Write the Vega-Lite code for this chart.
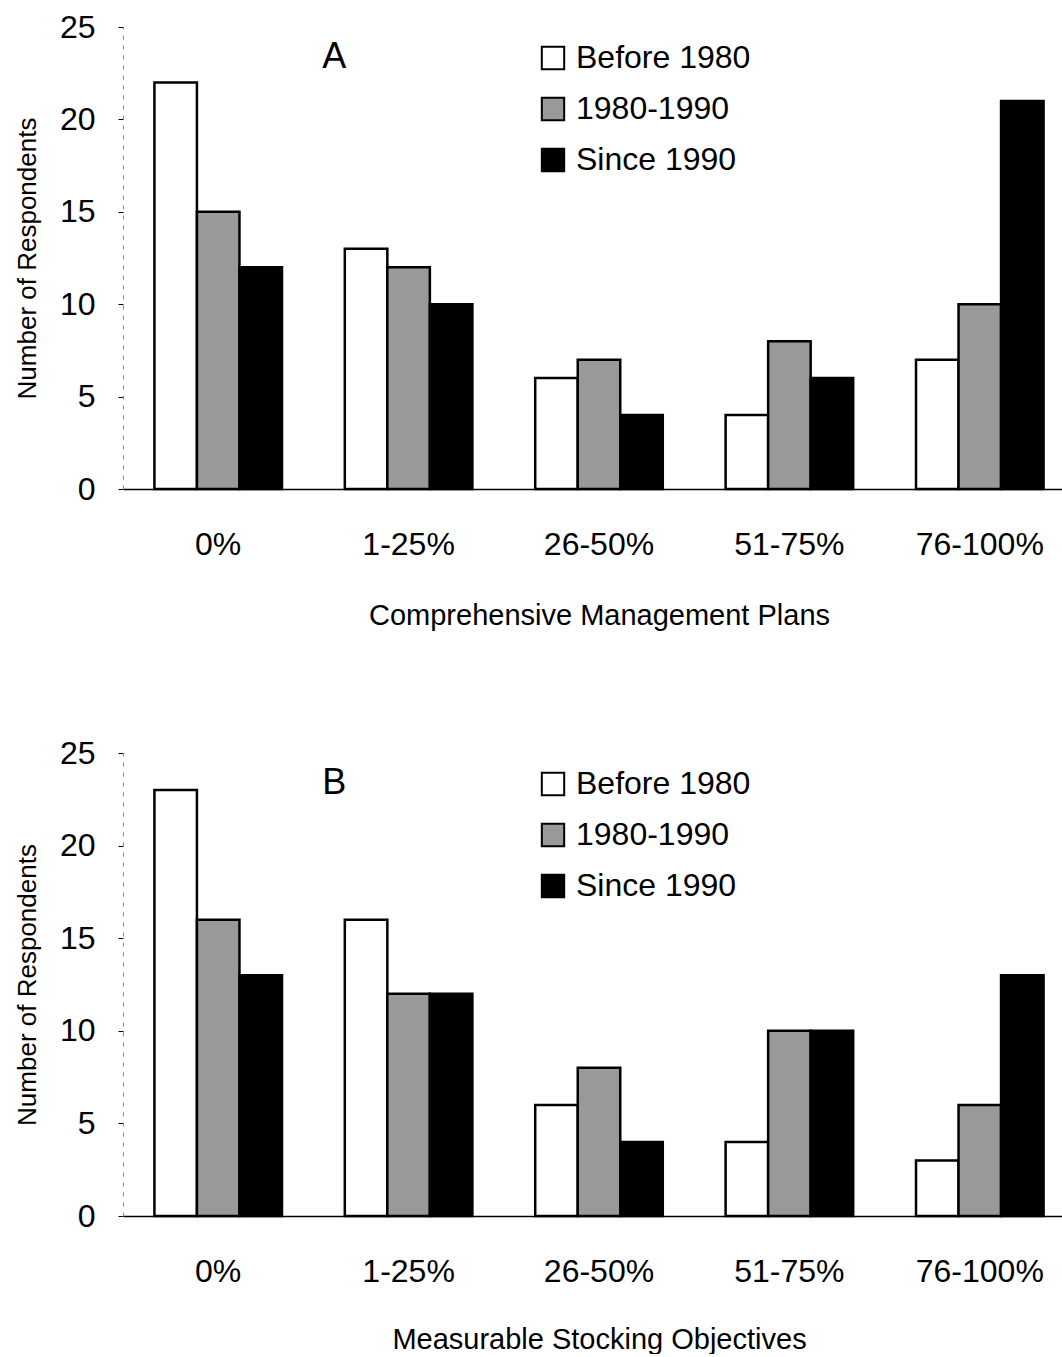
{
  "$schema": "https://vega.github.io/schema/vega-lite/v6.json",
  "padding": {"left": 14, "top": 11, "right": 0, "bottom": 0},
  "config": {
    "font": "Liberation Sans",
    "view": {"stroke": null},
    "axis": {"grid": false}
  },
  "data": {
    "values": [
      {"panel": "A", "range": "0%", "period": "Before 1980", "count": 22},
      {"panel": "A", "range": "0%", "period": "1980-1990", "count": 15},
      {"panel": "A", "range": "0%", "period": "Since 1990", "count": 12},
      {"panel": "A", "range": "1-25%", "period": "Before 1980", "count": 13},
      {"panel": "A", "range": "1-25%", "period": "1980-1990", "count": 12},
      {"panel": "A", "range": "1-25%", "period": "Since 1990", "count": 10},
      {"panel": "A", "range": "26-50%", "period": "Before 1980", "count": 6},
      {"panel": "A", "range": "26-50%", "period": "1980-1990", "count": 7},
      {"panel": "A", "range": "26-50%", "period": "Since 1990", "count": 4},
      {"panel": "A", "range": "51-75%", "period": "Before 1980", "count": 4},
      {"panel": "A", "range": "51-75%", "period": "1980-1990", "count": 8},
      {"panel": "A", "range": "51-75%", "period": "Since 1990", "count": 6},
      {"panel": "A", "range": "76-100%", "period": "Before 1980", "count": 7},
      {"panel": "A", "range": "76-100%", "period": "1980-1990", "count": 10},
      {"panel": "A", "range": "76-100%", "period": "Since 1990", "count": 21},
      {"panel": "B", "range": "0%", "period": "Before 1980", "count": 23},
      {"panel": "B", "range": "0%", "period": "1980-1990", "count": 16},
      {"panel": "B", "range": "0%", "period": "Since 1990", "count": 13},
      {"panel": "B", "range": "1-25%", "period": "Before 1980", "count": 16},
      {"panel": "B", "range": "1-25%", "period": "1980-1990", "count": 12},
      {"panel": "B", "range": "1-25%", "period": "Since 1990", "count": 12},
      {"panel": "B", "range": "26-50%", "period": "Before 1980", "count": 6},
      {"panel": "B", "range": "26-50%", "period": "1980-1990", "count": 8},
      {"panel": "B", "range": "26-50%", "period": "Since 1990", "count": 4},
      {"panel": "B", "range": "51-75%", "period": "Before 1980", "count": 4},
      {"panel": "B", "range": "51-75%", "period": "1980-1990", "count": 10},
      {"panel": "B", "range": "51-75%", "period": "Since 1990", "count": 10},
      {"panel": "B", "range": "76-100%", "period": "Before 1980", "count": 3},
      {"panel": "B", "range": "76-100%", "period": "1980-1990", "count": 6},
      {"panel": "B", "range": "76-100%", "period": "Since 1990", "count": 13}
    ]
  },
  "resolve": {"scale": {"color": "independent"}, "legend": {"color": "independent"}},
  "spacing": 107,
  "vconcat": [
    {
      "width": 952,
      "height": 462,
      "layer": [
        {
          "transform": [{"filter": "datum.panel === 'A'"}],
          "mark": {"type": "bar", "stroke": "black", "strokeWidth": 2.5},
          "encoding": {
            "x": {
              "field": "range", "type": "nominal",
              "sort": ["0%", "1-25%", "26-50%", "51-75%", "76-100%"],
              "scale": {"paddingInner": 0.33, "paddingOuter": 0.165},
              "axis": {
                "title": "Comprehensive Management Plans", "titleFontSize": 29, "titleFontWeight": "normal",
                "titlePadding": 41, "labelFontSize": 32, "labelPadding": 40, "labelAngle": 0,
                "ticks": false, "domainColor": "black", "domainWidth": 1.5
              }
            },
            "xOffset": {"field": "period", "type": "nominal", "sort": ["Before 1980", "1980-1990", "Since 1990"], "scale": {"paddingInner": 0, "paddingOuter": 0}},
            "y": {
              "field": "count", "type": "quantitative",
              "scale": {"domain": [0, 25], "nice": false},
              "axis": {
                "title": "Number of Respondents", "titleFontSize": 26, "titleFontWeight": "normal",
                "titlePadding": 19, "values": [0, 5, 10, 15, 20, 25], "labelFontSize": 32,
                "labelPadding": 23, "tickSize": 5, "tickColor": "black",
                "domainColor": "#888888", "domainDash": [4, 6], "domainWidth": 1
              }
            },
            "color": {
              "field": "period", "type": "nominal",
              "sort": ["Before 1980", "1980-1990", "Since 1990"],
              "scale": {"domain": ["Before 1980", "1980-1990", "Since 1990"], "range": ["#ffffff", "#999999", "#000000"]},
              "legend": {
                "title": null, "orient": "none", "legendX": 414, "legendY": 15,
                "labelFontSize": 32, "labelLimit": 400, "symbolType": "square", "symbolSize": 500,
                "symbolStrokeColor": "black", "symbolStrokeWidth": 2, "rowPadding": 19, "labelOffset": 7,
                "symbolOpacity": 1
              }
            }
          }
        },
        {
          "data": {"values": [{"label": "A", "range": "0%", "count": 23.4}]},
          "mark": {"type": "text", "fontSize": 36, "dx": 116, "align": "center", "baseline": "middle"},
          "encoding": {
            "x": {"field": "range", "type": "nominal", "bandPosition": 0.5},
            "y": {"field": "count", "type": "quantitative"},
            "text": {"field": "label"}
          }
        }
      ]
    },
    {
      "width": 952,
      "height": 463,
      "layer": [
        {
          "transform": [{"filter": "datum.panel === 'B'"}],
          "mark": {"type": "bar", "stroke": "black", "strokeWidth": 2.5},
          "encoding": {
            "x": {
              "field": "range", "type": "nominal",
              "sort": ["0%", "1-25%", "26-50%", "51-75%", "76-100%"],
              "scale": {"paddingInner": 0.33, "paddingOuter": 0.165},
              "axis": {
                "title": "Measurable Stocking Objectives", "titleFontSize": 29, "titleFontWeight": "normal",
                "titlePadding": 38, "labelFontSize": 32, "labelPadding": 40, "labelAngle": 0,
                "ticks": false, "domainColor": "black", "domainWidth": 1.5
              }
            },
            "xOffset": {"field": "period", "type": "nominal", "sort": ["Before 1980", "1980-1990", "Since 1990"], "scale": {"paddingInner": 0, "paddingOuter": 0}},
            "y": {
              "field": "count", "type": "quantitative",
              "scale": {"domain": [0, 25], "nice": false},
              "axis": {
                "title": "Number of Respondents", "titleFontSize": 26, "titleFontWeight": "normal",
                "titlePadding": 19, "values": [0, 5, 10, 15, 20, 25], "labelFontSize": 32,
                "labelPadding": 23, "tickSize": 5, "tickColor": "black",
                "domainColor": "#888888", "domainDash": [4, 6], "domainWidth": 1
              }
            },
            "color": {
              "field": "period", "type": "nominal",
              "sort": ["Before 1980", "1980-1990", "Since 1990"],
              "scale": {"domain": ["Before 1980", "1980-1990", "Since 1990"], "range": ["#ffffff", "#999999", "#000000"]},
              "legend": {
                "title": null, "orient": "none", "legendX": 414, "legendY": 15,
                "labelFontSize": 32, "labelLimit": 400, "symbolType": "square", "symbolSize": 500,
                "symbolStrokeColor": "black", "symbolStrokeWidth": 2, "rowPadding": 19, "labelOffset": 7,
                "symbolOpacity": 1
              }
            }
          }
        },
        {
          "data": {"values": [{"label": "B", "range": "0%", "count": 23.4}]},
          "mark": {"type": "text", "fontSize": 36, "dx": 116, "align": "center", "baseline": "middle"},
          "encoding": {
            "x": {"field": "range", "type": "nominal", "bandPosition": 0.5},
            "y": {"field": "count", "type": "quantitative"},
            "text": {"field": "label"}
          }
        }
      ]
    }
  ]
}
